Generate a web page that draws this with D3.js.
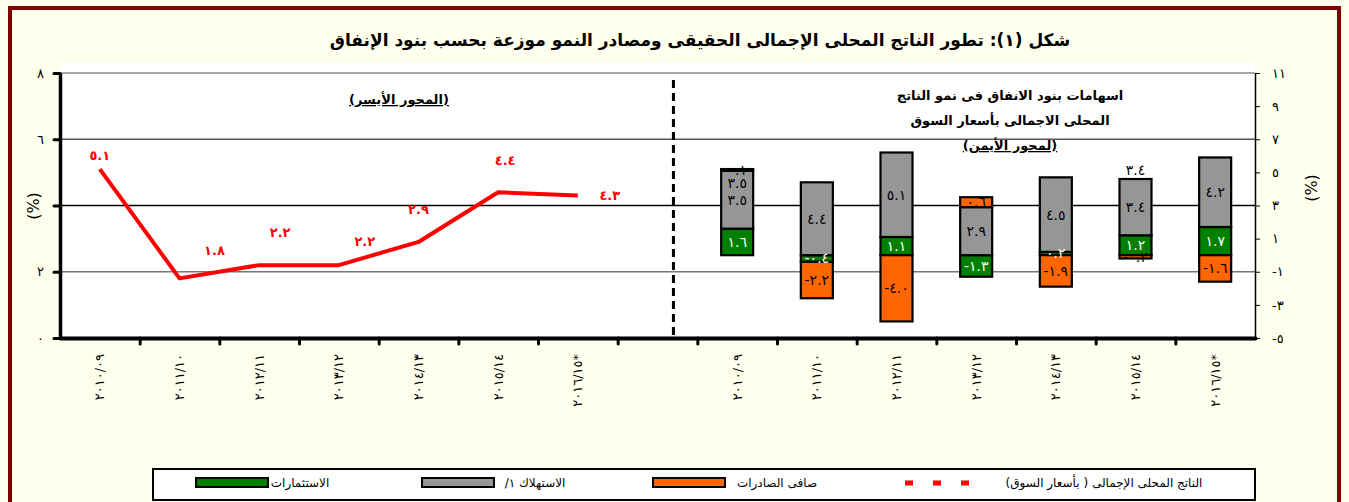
<!DOCTYPE html>
<html>
<head>
<meta charset="utf-8">
<script src="https://cdn.jsdelivr.net/npm/d3@7"></script>
<style>
  body { margin: 0; background: #FFFFEE; }
  svg { display: block; }
  text { font-family: "DejaVu Sans", sans-serif; }
</style>
</head>
<body>
<div id="chart"></div>
<script>
// fiscal years (shared by both panels)
var years = ["٢٠١٠/٠٩", "٢٠١١/١٠", "٢٠١٢/١١", "٢٠١٣/١٢", "٢٠١٤/١٣", "٢٠١٥/١٤", "٢٠١٦/١٥*"];
// left panel: real GDP growth at market prices (%)
var gdp = [5.1, 1.8, 2.2, 2.2, 2.9, 4.4, 4.3];
// right panel: contributions to growth (percentage points)
var investment = [1.6, -0.4, 1.1, -1.3, 0.2, 1.2, 1.7];
var consumption = [3.5, 4.4, 5.1, 2.9, 4.5, 3.4, 4.2];
var netExports = [0.1, -2.2, -4.0, 0.6, -1.9, -0.2, -1.6];
// stray duplicate labels that show up in the original
var strayLabels = [{year: 0, value: 3.5}, {year: 5, value: 3.4}];
var leftTicks = [0, 2, 4, 6, 8];
var rightTicks = [-5, -3, -1, 1, 3, 5, 7, 9, 11];

var legendNames = ["الناتج المحلى الإجمالى  ( بأسعار السوق)", "صافى الصادرات", "الاستهلاك ١/", "الاستثمارات"];
var title = "شكل (١): تطور الناتج المحلى الإجمالى الحقيقى  ومصادر النمو موزعة بحسب بنود الإنفاق";

var width = 1349, height = 502;
var plot = {left: 60, right: 1255, top: 73, bottom: 338};

var digits = "٠١٢٣٤٥٦٧٨٩";
function ar(s) { return String(s).replace(/[0-9]/g, function(c) { return digits[+c]; }); }
var f1 = d3.format(".1f");
function lab(v) { return ar(f1(v)).replace("−", "-"); }

var colors = {inv: "#008000", cons: "#969696", nx: "#FF6600", gdp: "#FF0000"};

var svg = d3.select("#chart").append("svg")
    .attr("width", width)
    .attr("height", height);

// outer frame
svg.append("rect").attr("x", 0).attr("y", 0).attr("width", width).attr("height", height).attr("fill", "#FFFFEE");
svg.append("rect")
    .attr("x", 10).attr("y", 8).attr("width", 1329).attr("height", 520)
    .attr("fill", "none").attr("stroke", "#800000").attr("stroke-width", 4);

svg.append("text")
    .attr("x", 700).attr("y", 46)
    .attr("text-anchor", "middle")
    .attr("direction", "rtl")
    .style("font-size", "17px").style("font-weight", "bold")
    .text(title);

// plot area
svg.append("rect")
    .attr("x", plot.left).attr("y", 62)
    .attr("width", plot.right - plot.left).attr("height", plot.bottom - 62)
    .attr("fill", "#fff");

// 15 slots: 7 years, one gap, 7 years
var xb = d3.scaleBand().domain(d3.range(15)).range([plot.left, plot.right]);
var xl = d3.scaleLinear().domain([0, 15]).range([plot.left, plot.right]);
var yl = d3.scaleLinear().domain([0, 8]).range([plot.bottom, plot.top]);
var yr = d3.scaleLinear().domain([-5, 11]).range([plot.bottom, plot.top]);
var bw = xb.bandwidth();
function cx(i) { return xb(i) + bw / 2; }
function rx(i) { return cx(i + 8); }

// gridlines
var gridColor = {8: "#8a8a8a", 6: "#555", 4: "#000", 2: "#777"};
svg.append("g").selectAll("line")
    .data([8, 6, 4, 2])
  .enter().append("line")
    .attr("x1", plot.left).attr("x2", plot.right)
    .attr("y1", function(d) { return yl(d); }).attr("y2", function(d) { return yl(d); })
    .attr("stroke", function(d) { return gridColor[d]; })
    .attr("stroke-width", 1.3);

// separator
svg.append("line")
    .attr("x1", xl(7.7)).attr("x2", xl(7.7))
    .attr("y1", 80).attr("y2", plot.bottom)
    .attr("stroke", "#000").attr("stroke-width", 3)
    .attr("stroke-dasharray", "8,5");

// stacked bars: positive stack inv -> cons -> nx, negative stack inv -> nx
var segs = [];
years.forEach(function(y, i) {
  var pos = 0, neg = 0;
  [["inv", investment[i]], ["cons", consumption[i]], ["nx", netExports[i]]].forEach(function(p) {
    var v = p[1], y0, y1;
    if (v >= 0) { y0 = pos; y1 = pos + v; pos = y1; }
    else { y0 = neg; y1 = neg + v; neg = y1; }
    segs.push({i: i, key: p[0], v: v, y0: y0, y1: y1});
  });
});
var barW = 32;
svg.append("g").selectAll("rect")
    .data(segs)
  .enter().append("rect")
    .attr("x", function(d) { return rx(d.i) - barW / 2; })
    .attr("width", barW)
    .attr("y", function(d) { return yr(Math.max(d.y0, d.y1)); })
    .attr("height", function(d) { return Math.abs(yr(d.y0) - yr(d.y1)); })
    .attr("fill", function(d) { return colors[d.key]; })
    .attr("stroke", "#000").attr("stroke-width", 2.2);

svg.append("g").selectAll("text")
    .data(segs)
  .enter().append("text")
    .attr("x", function(d) { return rx(d.i); })
    .attr("y", function(d) { return yr((d.y0 + d.y1) / 2); })
    .attr("dy", "0.35em")
    .attr("text-anchor", "middle")
    .attr("fill", function(d) { return d.key === "inv" ? "#fff" : "#000"; })
    .style("font-size", "14px")
    .text(function(d) { return lab(d.v); });

// duplicate labels near the top of the stacks
function stackTop(i) { return d3.sum([investment[i], consumption[i], netExports[i]], function(v) { return v > 0 ? v : 0; }); }
svg.append("g").selectAll("text")
    .data(strayLabels)
  .enter().append("text")
    .attr("x", function(d) { return rx(d.year); })
    .attr("y", function(d) { return yr(stackTop(d.year)) + (d.year === 0 ? 14 : -9); })
    .attr("dy", "0.35em")
    .attr("text-anchor", "middle")
    .style("font-size", "14px")
    .text(function(d) { return lab(d.value); });

// GDP line (left axis)
var line = d3.line()
    .x(function(d, i) { return cx(i); })
    .y(function(d) { return yl(d); });
svg.append("path")
    .datum(gdp)
    .attr("d", line)
    .attr("fill", "none")
    .attr("stroke", colors.gdp)
    .attr("stroke-width", 4)
    .attr("stroke-linejoin", "round");

var gdpLabelOffset = [[0, -14], [35, -28], [21, -33], [26, -24], [0, -32], [7, -32], [32, 0]];
svg.append("g").selectAll("text")
    .data(gdp)
  .enter().append("text")
    .attr("x", function(d, i) { return cx(i) + gdpLabelOffset[i][0]; })
    .attr("y", function(d, i) { return yl(d) + gdpLabelOffset[i][1]; })
    .attr("dy", "0.35em")
    .attr("text-anchor", "middle")
    .attr("fill", colors.gdp)
    .style("font-size", "13px").style("font-weight", "bold")
    .text(function(d) { return lab(d); });

// axes
var axL = svg.append("g")
    .attr("transform", "translate(" + plot.left + ",0)")
    .call(d3.axisLeft(yl).tickValues(leftTicks).tickSize(6).tickSizeOuter(0).tickPadding(10)
      .tickFormat(function(d) { return d === 4 ? "" : ar(d); }));
axL.select(".domain").attr("stroke-width", 3.5);
axL.selectAll(".tick line").attr("stroke-width", 3).attr("stroke-linecap", "round");
axL.selectAll("text").style("font-size", "13px").attr("fill", "#000");

var axR = svg.append("g")
    .attr("transform", "translate(" + plot.right + ",0)")
    .call(d3.axisRight(yr).tickValues(rightTicks).tickSize(5).tickSizeOuter(0).tickPadding(12)
      .tickFormat(function(d) { return (d < 0 ? "-" : "") + ar(Math.abs(d)); }));
axR.select(".domain").attr("stroke-width", 1.5);
axR.selectAll("text").style("font-size", "13px").attr("fill", "#000");

var axB = svg.append("g")
    .attr("transform", "translate(0," + plot.bottom + ")")
    .call(d3.axisBottom(xl).tickValues(d3.range(1, 15)).tickSize(6).tickSizeOuter(0).tickFormat(""));
axB.select(".domain").attr("stroke-width", 4).attr("stroke-linecap", "round");
axB.selectAll(".tick line").attr("stroke-width", 3).attr("stroke-linecap", "round");

// year labels, rotated, under both panels
var slots = d3.range(7).concat(d3.range(8, 15));
svg.append("g").selectAll("text")
    .data(slots)
  .enter().append("text")
    .attr("transform", function(d) { return "translate(" + cx(d) + ",354) rotate(-90)"; })
    .attr("dy", "0.35em")
    .attr("text-anchor", "end")
    .style("font-size", "13px")
    .style("letter-spacing", "1px")
    .text(function(d) { return years[d < 7 ? d : d - 8]; });

// axis titles
svg.append("text")
    .attr("transform", "translate(33,206) rotate(-90)")
    .attr("dy", "0.35em").attr("text-anchor", "middle")
    .style("font-size", "16px")
    .text("(%)");
svg.append("text")
    .attr("transform", "translate(1311,188) rotate(-90)")
    .attr("dy", "0.35em").attr("text-anchor", "middle")
    .style("font-size", "16px")
    .text("(%)");

// panel notes
function note(x, y, t, underline) {
  svg.append("text")
      .attr("x", x).attr("y", y)
      .attr("text-anchor", "middle").attr("direction", "rtl")
      .style("font-size", "13px").style("font-weight", "bold")
      .style("text-decoration", underline ? "underline" : null)
      .text(t);
}
note(399, 104, "(المحور الأيسر)", true);
note(1010, 100, "اسهامات بنود الانفاق فى نمو الناتج", false);
note(1010, 125, "المحلى الاجمالى بأسعار السوق", false);
note(1010, 150, "(لمحور الأيمن)", true);

// legend
var lg = svg.append("g");
lg.append("rect")
    .attr("x", 153).attr("y", 469).attr("width", 1102).attr("height", 31)
    .attr("fill", "#fff").attr("stroke", "#000").attr("stroke-width", 2);
var swatches = [{x: 196, c: colors.inv, t: legendNames[3], tx: 300},
                {x: 422, c: colors.cons, t: legendNames[2], tx: 535},
                {x: 653, c: colors.nx, t: legendNames[1], tx: 777}];
lg.selectAll("rect.sw")
    .data(swatches)
  .enter().append("rect")
    .attr("class", "sw")
    .attr("x", function(d) { return d.x; }).attr("y", 478)
    .attr("width", 72).attr("height", 9)
    .attr("fill", function(d) { return d.c; })
    .attr("stroke", "#000").attr("stroke-width", 2);
lg.append("line")
    .attr("x1", 905).attr("x2", 975).attr("y1", 483).attr("y2", 483)
    .attr("stroke", colors.gdp).attr("stroke-width", 5)
    .attr("stroke-dasharray", "8,20");
lg.selectAll("text")
    .data(swatches.concat([{t: legendNames[0], tx: 1104}]))
  .enter().append("text")
    .attr("x", function(d) { return d.tx; }).attr("y", 487)
    .attr("text-anchor", "middle").attr("direction", "rtl")
    .style("font-size", "12px")
    .text(function(d) { return d.t; });
</script>
</body>
</html>
